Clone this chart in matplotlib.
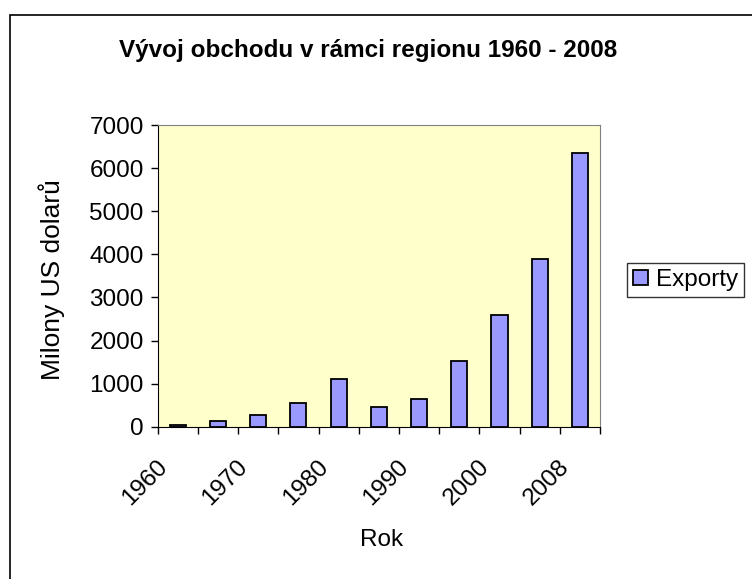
import matplotlib.pyplot as plt
import matplotlib.patches as mpatches
from matplotlib.transforms import ScaledTranslation
import numpy as np

plt.rcParams["font.family"] = ["Liberation Sans", "DejaVu Sans"]

# data
years = ["1960", "1965", "1970", "1975", "1980", "1985", "1990", "1995", "2000", "2005", "2008"]
tick_labels = ["1960", "", "1970", "", "1980", "", "1990", "", "2000", "", "2008"]
exporty = [46, 131, 271, 549, 1106, 464, 650, 1532, 2591, 3891, 6343]

fig = plt.figure(figsize=(7.52, 5.79), dpi=100)
fig.patch.set_facecolor("white")

# outer chart border (right/bottom edges fall outside the picture)
W, H = 752, 579
border = mpatches.Rectangle((10 / W, -0.1), 1.2, (H - 15) / H + 0.1,
                            transform=fig.transFigure, fill=False,
                            edgecolor="black", linewidth=1.2)
fig.patches.append(border)

ax = fig.add_axes([157.7 / W, (H - 426.7) / H, (600 - 157.7) / W, (426.7 - 125) / H])
ax.set_facecolor("#FFFFCC")

x = np.arange(len(years))
ax.bar(x, exporty, width=0.4, color="#9999FF", edgecolor="black",
       linewidth=1.3, label="Exporty", zorder=3)

ax.set_xlim(-0.5, len(years) - 0.5)
ax.set_ylim(0, 7000)
ax.set_yticks(np.arange(0, 7001, 1000))
ax.tick_params(axis="y", labelsize=17.5, length=5, direction="out", width=1, pad=5)

ax.set_xticks(np.arange(-0.5, len(years), 1))
ax.set_xticklabels([])
ax.tick_params(axis="x", length=5, direction="out", width=1)
ax.set_xticks(x, minor=True)
ax.set_xticklabels(tick_labels, minor=True, rotation=45, ha="center", va="top",
                   fontsize=17.5)
ax.tick_params(axis="x", which="minor", length=0, pad=21)
shift = ScaledTranslation(-33 / 100, 0, fig.dpi_scale_trans)
for lab in ax.get_xticklabels(minor=True):
    lab.set_transform(lab.get_transform() + shift)

for s in ["top", "right"]:
    ax.spines[s].set_color("#808080")
for s in ["left", "bottom"]:
    ax.spines[s].set_color("black")

fig.text(368 / W, 1 - 50 / H, "Vývoj obchodu v rámci regionu 1960 - 2008",
         ha="center", va="center", fontsize=17.5, fontweight="bold")
fig.text(382 / W, 1 - 540 / H, "Rok", ha="center", va="center", fontsize=17.5)
fig.text(52 / W, 1 - 280 / H, "Milony US dolarů", ha="center", va="center",
         rotation=90, fontsize=19)

leg = fig.legend(loc="center left", bbox_to_anchor=(627 / W, 1 - 280 / H),
                 fontsize=17.5, frameon=True, fancybox=False,
                 handlelength=0.6, handleheight=0.6, handletextpad=0.35,
                 borderpad=0.25, borderaxespad=0)
leg.get_frame().set_edgecolor("black")
leg.get_frame().set_linewidth(1.0)

fig.savefig("out.png", dpi=100, facecolor="white")
